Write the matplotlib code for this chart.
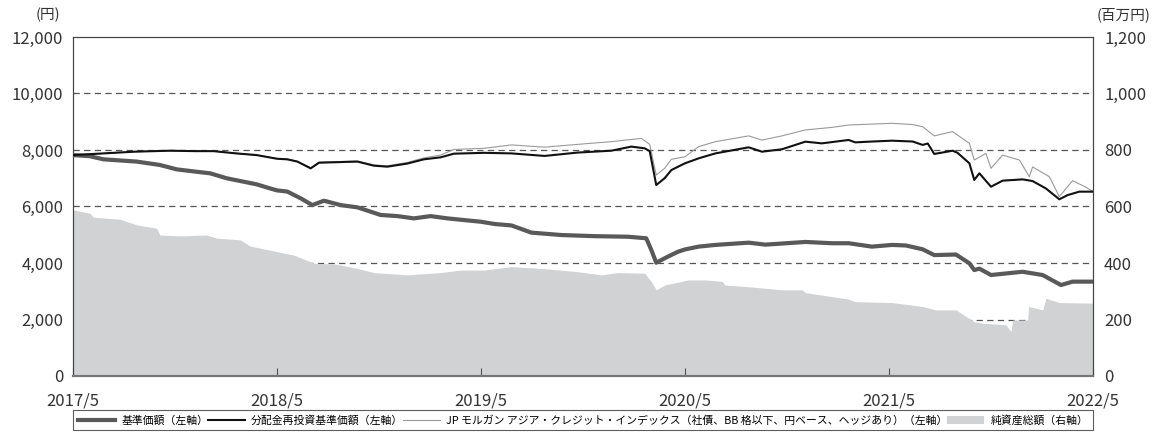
import matplotlib.pyplot as plt
from matplotlib.ticker import FuncFormatter

plt.rcParams['font.family'] = ['Noto Sans CJK JP', 'DejaVu Sans']

# x = years elapsed since 2017/5
nav_t = [0.0, 0.083, 0.149, 0.312, 0.426, 0.508, 0.606, 0.672, 0.753, 0.835, 0.9, 0.966,
         1.0, 1.05, 1.116, 1.173, 1.23, 1.312, 1.394, 1.508, 1.59, 1.671, 1.753, 1.835, 1.916,
         2.0, 2.067, 2.149, 2.247, 2.394, 2.557, 2.72, 2.81, 2.835, 2.859, 2.916, 2.966,
         3.0, 3.067, 3.149, 3.312, 3.394, 3.59, 3.72, 3.802, 3.916,
         4.015, 4.083, 4.165, 4.222, 4.328, 4.394, 4.418, 4.443, 4.5, 4.655, 4.753, 4.843, 4.9, 5.0]
nav = [7820, 7780, 7670, 7590, 7470, 7315, 7230, 7175, 7000, 6880, 6785, 6640,
       6570, 6530, 6290, 6050, 6205, 6050, 5970, 5700, 5660, 5580, 5660, 5580, 5520,
       5460, 5380, 5330, 5075, 4990, 4950, 4930, 4875, 4460, 4010, 4225, 4400,
       4480, 4580, 4640, 4720, 4650, 4745, 4700, 4700, 4580,
       4640, 4620, 4485, 4280, 4300, 3990, 3750, 3800, 3575, 3690, 3575, 3220, 3340, 3340]

reinv_t = [0.0, 0.15, 0.3, 0.475, 0.6, 0.688, 0.8, 0.9,
           1.0, 1.05, 1.1, 1.165, 1.206, 1.394, 1.475, 1.541, 1.639, 1.72, 1.802, 1.867,
           2.015, 2.149, 2.312, 2.475, 2.639, 2.737, 2.802, 2.827, 2.859, 2.9, 2.933,
           3.0, 3.067, 3.149, 3.312, 3.377, 3.475, 3.59, 3.671, 3.802, 3.835, 3.916,
           4.015, 4.116, 4.165, 4.19, 4.222, 4.312, 4.336, 4.394, 4.418, 4.443, 4.5, 4.557,
           4.655, 4.704, 4.769, 4.835, 4.876, 4.933, 5.0]
reinv = [7820, 7880, 7940, 7975, 7960, 7960, 7880, 7820,
         7690, 7670, 7590, 7350, 7550, 7590, 7445, 7410, 7520, 7670, 7740, 7870,
         7900, 7880, 7790, 7910, 7975, 8120, 8060, 7960, 6760, 7000, 7290,
         7530, 7705, 7880, 8095, 7940, 8025, 8295, 8235, 8355, 8270, 8300,
         8330, 8300, 8180, 8230, 7860, 7975, 7900, 7530, 6940, 7175, 6700, 6915,
         6960, 6900, 6640, 6255, 6405, 6525, 6525]

idx_t = [0.0, 0.15, 0.3, 0.475, 0.6, 0.688, 0.8, 0.9,
         1.0, 1.05, 1.1, 1.165, 1.206, 1.394, 1.475, 1.541, 1.639, 1.72, 1.802, 1.867,
         2.015, 2.149, 2.312, 2.475, 2.639, 2.786, 2.827, 2.859, 2.9, 2.933,
         3.0, 3.067, 3.149, 3.312, 3.377, 3.475, 3.59, 3.72, 3.802,
         4.015, 4.116, 4.165, 4.222, 4.312, 4.394, 4.418, 4.475, 4.5, 4.557, 4.639,
         4.688, 4.704, 4.786, 4.835, 4.9, 4.966, 5.0]
idx = [7820, 7880, 7940, 7975, 7960, 7960, 7880, 7820,
       7700, 7680, 7600, 7370, 7570, 7610, 7470, 7440, 7560, 7720, 7820, 8020,
       8060, 8180, 8100, 8200, 8295, 8410, 8200, 7115, 7350, 7670,
       7760, 8120, 8295, 8500, 8350, 8500, 8710, 8800, 8885,
       8945, 8900, 8825, 8500, 8650, 8235, 7645, 7880, 7350, 7820, 7645,
       7055, 7400, 7055, 6350, 6915, 6680, 6525]

# 純資産総額 (百万円)
assets_t = [0.0, 0.083, 0.1, 0.23, 0.312, 0.41, 0.426, 0.524, 0.655, 0.704, 0.819, 0.868,
            1.0, 1.083, 1.181, 1.279, 1.394, 1.475, 1.639, 1.802, 1.9,
            2.015, 2.149, 2.312, 2.475, 2.59, 2.671, 2.802, 2.835, 2.859, 2.9,
            3.015, 3.1, 3.181, 3.197, 3.312, 3.475, 3.573, 3.59, 3.72, 3.802, 3.835,
            4.015, 4.165, 4.23, 4.328, 4.418, 4.459, 4.573, 4.598, 4.606, 4.68, 4.684,
            4.753, 4.769, 4.835, 5.0]
assets = [588, 576, 562, 555, 535, 523, 499, 496, 499, 488, 482, 460,
          440, 428, 399, 397, 381, 366, 358, 366, 375,
          375, 387, 380, 369, 358, 366, 364, 334, 305, 322,
          340, 340, 335, 322, 316, 305, 305, 295, 281, 272, 263,
          260, 246, 234, 234, 192, 187, 181, 157, 198, 198, 246,
          234, 275, 260, 258]

x_labels = ['2017/5', '2018/5', '2019/5', '2020/5', '2021/5', '2022/5']

labels = ['基準価額（左軸）', '分配金再投資基準価額（左軸）',
          'JP モルガン アジア・クレジット・インデックス（社債、BB 格以下、円ベース、ヘッジあり）（左軸）',
          '純資産総額（右軸）']

W, H = 1173, 437
fig = plt.figure(figsize=(W / 100, H / 100), dpi=100)
ax = fig.add_axes([73 / W, 1 - 376 / H, (1093 - 73) / W, (376 - 37) / H])
ax2 = ax.twinx()

# net assets on the right axis, drawn underneath the price lines
ax2.fill_between(assets_t, assets, 0, color='#d1d2d4', linewidth=0, zorder=2, label=labels[3])
ax2.set_ylim(0, 1200)
ax2.set_yticks(range(0, 1201, 200))
ax2.yaxis.set_major_formatter(FuncFormatter(lambda v, p: f'{int(v):,}'))
for yv in range(200, 1200, 200):
    ax2.axhline(yv, color='#555555', linewidth=0.9, linestyle=(0, (5, 3.5)), zorder=1)

ax.set_zorder(ax2.get_zorder() + 1)
ax.patch.set_visible(False)
l1, = ax.plot(nav_t, nav, color='#595959', linewidth=3.0, label=labels[0], zorder=3)
l3, = ax.plot(idx_t, idx, color='#9a9a9a', linewidth=0.8, label=labels[2], zorder=4)
l2, = ax.plot(reinv_t, reinv, color='#111111', linewidth=1.5, label=labels[1], zorder=5)

ax.set_xlim(0, 5)
ax.set_ylim(0, 12000)
ax.set_yticks(range(0, 12001, 2000))
ax.yaxis.set_major_formatter(FuncFormatter(lambda v, p: f'{int(v):,}'))
ax.set_xticks(range(len(x_labels)))
ax.set_xticklabels(x_labels)

font = 12
ax.tick_params(axis='y', length=0, pad=7, labelsize=font, labelcolor='#333333')
ax2.tick_params(axis='y', length=0, pad=8, labelsize=font, labelcolor='#333333')
ax.tick_params(axis='x', direction='in', length=6, width=0.8, color='#555555',
               pad=12, labelsize=font, labelcolor='#333333')
ax2.tick_params(axis='x', length=0)

for a in (ax, ax2):
    for s in a.spines.values():
        s.set_color('#444444')
        s.set_linewidth(0.8)
    a.spines['bottom'].set_color('#777777')
    a.spines['bottom'].set_linewidth(1.5)

fig.text(48 / W, 1 - 15 / H, '(円)', ha='center', va='center', fontsize=10.5, color='#333333')
fig.text(1124 / W, 1 - 15 / H, '(百万円)', ha='center', va='center', fontsize=10.5, color='#333333')

handles = [l1, l2, l3, ax2.collections[0]]
leg = fig.legend(handles, labels, loc='upper left', ncol=4, mode='expand',
                 bbox_to_anchor=(73 / W, 0, (1093 - 73) / W, 1 - 410 / H),
                 fontsize=7.8, frameon=True, fancybox=False, edgecolor='#333333',
                 handlelength=3.4, handletextpad=0.6, columnspacing=0.8,
                 borderpad=0.45, borderaxespad=0)
leg.get_frame().set_linewidth(0.8)

fig.savefig('out.png', dpi=100)
